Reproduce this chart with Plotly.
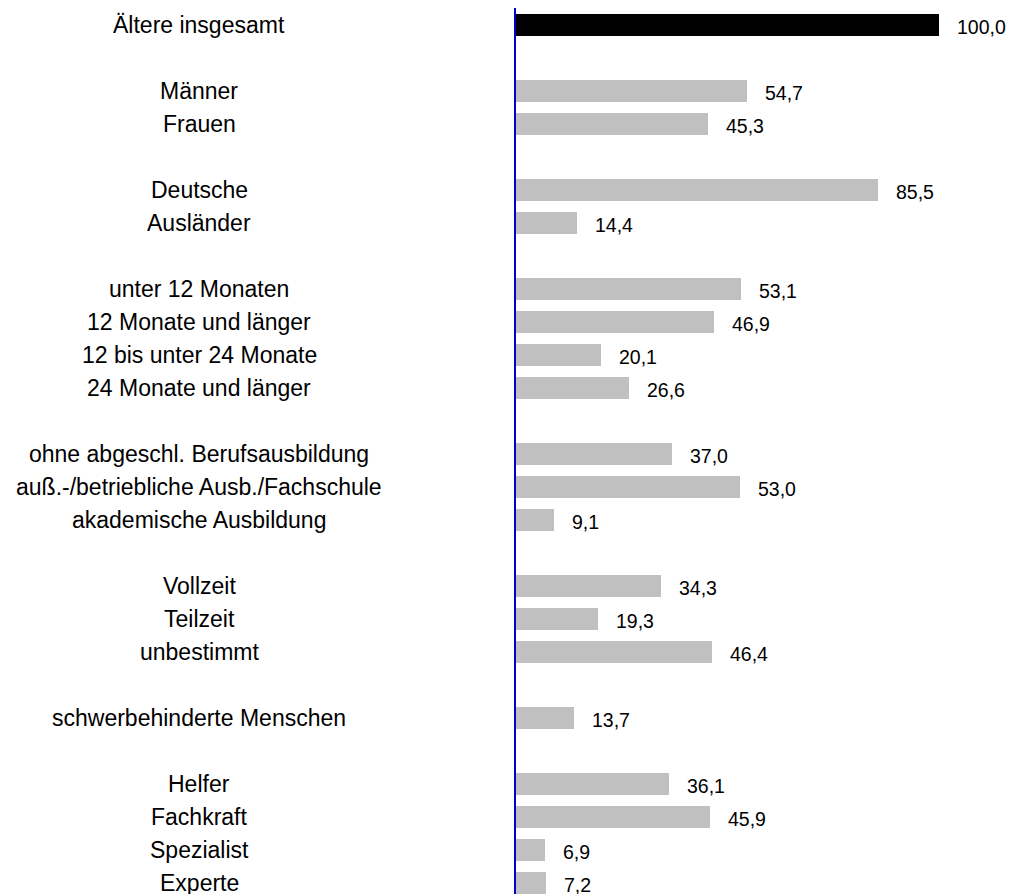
"""
Ältere Arbeitslose nach Merkmalen - horizontales Balkendiagramm
"""
import plotly.graph_objects as go

# Daten
kategorien = [
    "Ältere insgesamt",
    "Männer", "Frauen",
    "Deutsche", "Ausländer",
    "unter 12 Monaten", "12 Monate und länger",
    "12 bis unter 24 Monate", "24 Monate und länger",
    "ohne abgeschl. Berufsausbildung",
    "auß.-/betriebliche Ausb./Fachschule",
    "akademische Ausbildung",
    "Vollzeit", "Teilzeit", "unbestimmt",
    "schwerbehinderte Menschen",
    "Helfer", "Fachkraft", "Spezialist", "Experte",
]
werte = [
    100.0,
    54.7, 45.3,
    85.5, 14.4,
    53.1, 46.9, 20.1, 26.6,
    37.0, 53.0, 9.1,
    34.3, 19.3, 46.4,
    13.7,
    36.1, 45.9, 6.9, 7.2,
]
# Gruppennummer je Kategorie (zwischen Gruppen bleibt eine Zeile frei)
gruppen = [0, 1, 1, 2, 2, 3, 3, 3, 3, 4, 4, 4, 5, 5, 5, 6, 7, 7, 7, 7]

pos = [i + g for i, g in enumerate(gruppen)]
farben = ["#000000"] + ["#C0C0C0"] * (len(werte) - 1)

FONT = "Arial, Liberation Sans, sans-serif"

fig = go.Figure()
fig.add_trace(
    go.Bar(
        x=werte,
        y=pos,
        orientation="h",
        marker=dict(color=farben, line=dict(width=0)),
        width=0.67,
        hoverinfo="skip",
    )
)

# Beschriftungen links (zentriert)
for p, name in zip(pos, kategorien):
    fig.add_annotation(
        x=-0.6417, xref="paper", y=p, yref="y",
        text=name, showarrow=False, xanchor="center", yanchor="middle",
        font=dict(family=FONT, size=23, color="#000000"),
    )

# Werte rechts neben den Balken
for p, v in zip(pos, werte):
    fig.add_annotation(
        x=v, y=p, xref="x", yref="y",
        text=f"{v:.1f}".replace(".", ","), showarrow=False,
        xanchor="left", yanchor="middle", xshift=16, yshift=-2,
        font=dict(family=FONT, size=19.5, color="#000000"),
    )

fig.update_layout(
    width=1010,
    height=894,
    margin=dict(l=516, r=0, t=8, b=0),
    paper_bgcolor="white",
    plot_bgcolor="white",
    showlegend=False,
    bargap=0,
)
fig.update_xaxes(range=[0, 116.8], visible=False, fixedrange=True)
fig.update_yaxes(
    range=[26.333, -0.515],
    showticklabels=False,
    showgrid=False,
    zeroline=False,
    showline=True,
    linecolor="#0000CC",
    linewidth=1.5,
    ticks="",
    fixedrange=True,
)

# Seitenrand entfernen, damit die Figur genau ins Fenster passt
fig.write_html(
    "out.html",
    config={"displayModeBar": False},
    post_script="document.body.style.margin='0';document.body.style.overflow='hidden';",
)
